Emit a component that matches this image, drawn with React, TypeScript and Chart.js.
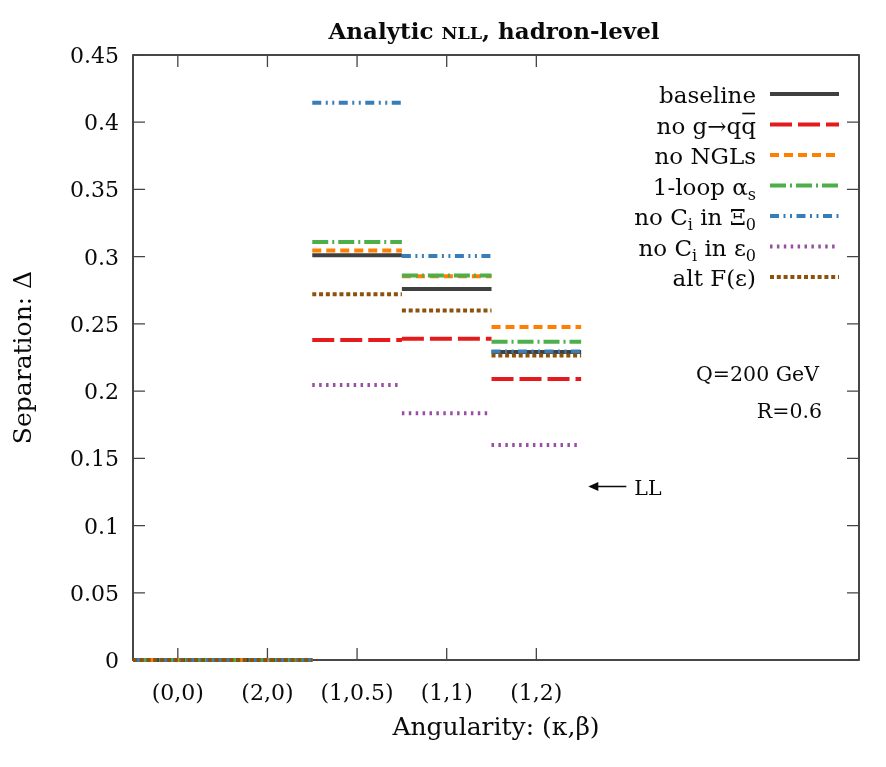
import React, { useEffect, useRef } from "react";
import { Chart, registerables } from "chart.js";

Chart.register(...registerables);

// Angularity choices (κ,β) along the x axis, one per unit step
const categories = ["(0,0)", "(2,0)", "(1,0.5)", "(1,1)", "(1,2)"];
const yTicks = [0, 0.05, 0.1, 0.15, 0.2, 0.25, 0.3, 0.35, 0.4, 0.45];

// Separation Δ for each variation
const baseline = [0, 0, 0.301, 0.276, 0.229];
const noGtoQQ = [0, 0, 0.238, 0.239, 0.209];
const noNGLs = [0, 0, 0.3045, 0.2855, 0.2477];
const oneLoopAlphaS = [0, 0, 0.311, 0.286, 0.2368];
const noCiInXi0 = [0, 0, 0.4145, 0.3005, 0.2295];
const noCiInEps0 = [0, 0, 0.2046, 0.1836, 0.16];
const altFeps = [0, 0, 0.272, 0.26, 0.2264];

// Leading-log reference value for (1,2)
const llValue = 0.129;

type Run = { t: string; sub?: boolean; over?: boolean };

const seriesLabels: Run[][] = [
  [{ t: "baseline" }],
  [{ t: "no g" }, { t: "→" }, { t: "q" }, { t: "q", over: true }],
  [{ t: "no NGLs" }],
  [{ t: "1-loop α" }, { t: "s", sub: true }],
  [{ t: "no C" }, { t: "i", sub: true }, { t: " in Ξ" }, { t: "0", sub: true }],
  [{ t: "no C" }, { t: "i", sub: true }, { t: " in ε" }, { t: "0", sub: true }],
  [{ t: "alt F(ε)" }],
];
const seriesValues = [baseline, noGtoQQ, noNGLs, oneLoopAlphaS, noCiInXi0, noCiInEps0, altFeps];
const seriesColors = ["#404040", "#e41a1c", "#ff7f00", "#4daf4a", "#377eb8", "#984ea3", "#8c510a"];
const seriesDashes: number[][] = [
  [],
  [22, 6],
  [9, 5],
  [16, 4, 2, 4],
  [9, 4.5, 2, 4.5, 2, 4.5],
  [2.5, 4.4],
  [4, 2.8],
];

const FONT = '"DejaVu Serif", serif';
const INK = "#0a0a0a";

// Each category is a flat segment one unit wide, centred on its tick
function segments(values: number[]) {
  const pts: { x: number; y: number | null }[] = [];
  values.forEach((v, i) => {
    const c = i + 1;
    pts.push({ x: c - 0.5, y: v });
    pts.push({ x: c + 0.5, y: v });
    pts.push({ x: c + 0.5, y: null });
  });
  return pts;
}

function runsWidth(ctx: CanvasRenderingContext2D, runs: Run[], size: number) {
  let w = 0;
  for (const r of runs) {
    ctx.font = `${r.sub ? Math.round(size * 0.68) : size}px ${FONT}`;
    w += ctx.measureText(r.t).width;
  }
  return w;
}

function drawRuns(ctx: CanvasRenderingContext2D, runs: Run[], xRight: number, yBase: number, size: number) {
  let x = xRight - runsWidth(ctx, runs, size);
  ctx.textAlign = "left";
  ctx.textBaseline = "alphabetic";
  for (const r of runs) {
    ctx.font = `${r.sub ? Math.round(size * 0.68) : size}px ${FONT}`;
    const w = ctx.measureText(r.t).width;
    ctx.fillText(r.t, x, yBase + (r.sub ? 5 : 0));
    if (r.over) {
      ctx.save();
      ctx.lineWidth = 1.6;
      ctx.strokeStyle = INK;
      ctx.beginPath();
      ctx.moveTo(x + 1, yBase - 20);
      ctx.lineTo(x + w - 1, yBase - 20);
      ctx.stroke();
      ctx.restore();
    }
    x += w;
  }
}

const framePlugin = {
  id: "frame",
  beforeDatasetsDraw(chart: any) {
    const { ctx, chartArea: a, scales } = chart;
    const xs = scales.x;
    const ys = scales.y;
    ctx.save();
    // axis box
    ctx.strokeStyle = "#1a1a1a";
    ctx.lineWidth = 1.6;
    ctx.strokeRect(a.left, a.top, a.right - a.left, a.bottom - a.top);

    // inward ticks
    ctx.strokeStyle = "#444";
    ctx.lineWidth = 1.3;
    ctx.beginPath();
    yTicks.forEach((v) => {
      const y = ys.getPixelForValue(v);
      ctx.moveTo(a.left, y);
      ctx.lineTo(a.left + 12, y);
      ctx.moveTo(a.right, y);
      ctx.lineTo(a.right - 12, y);
    });
    categories.forEach((_, i) => {
      const x = xs.getPixelForValue(i + 1);
      ctx.moveTo(x, a.bottom);
      ctx.lineTo(x, a.bottom - 12);
      ctx.moveTo(x, a.top);
      ctx.lineTo(x, a.top + 12);
    });
    ctx.stroke();

    // tick labels
    ctx.fillStyle = INK;
    ctx.font = `22px ${FONT}`;
    ctx.textAlign = "right";
    ctx.textBaseline = "alphabetic";
    yTicks.forEach((v) => {
      const y = ys.getPixelForValue(v);
      ctx.fillText(String(v), a.left - 14, y + 8);
    });
    ctx.textAlign = "center";
    categories.forEach((c, i) => {
      const x = xs.getPixelForValue(i + 1);
      ctx.fillText(c, x, a.bottom + 40);
    });

    // axis titles
    ctx.font = `25px ${FONT}`;
    ctx.fillText("Angularity: (κ,β)", (a.left + a.right) / 2, a.bottom + 75);
    ctx.save();
    ctx.translate(31, (a.top + a.bottom) / 2);
    ctx.rotate(-Math.PI / 2);
    ctx.fillText("Separation: Δ", 0, 0);
    ctx.restore();

    // title with small-caps NLL
    const parts = [
      { t: "Analytic ", s: 23 },
      { t: "NLL", s: 17.5 },
      { t: ", hadron-level", s: 23 },
    ];
    let total = 0;
    parts.forEach((p) => {
      ctx.font = `bold ${p.s}px ${FONT}`;
      total += ctx.measureText(p.t).width;
    });
    let tx = (a.left + a.right) / 2 - 2 - total / 2;
    ctx.textAlign = "left";
    parts.forEach((p) => {
      ctx.font = `bold ${p.s}px ${FONT}`;
      ctx.fillText(p.t, tx, 39);
      tx += ctx.measureText(p.t).width;
    });
    ctx.restore();
  },
  afterDatasetsDraw(chart: any) {
    const { ctx, scales } = chart;
    const xs = scales.x;
    const ys = scales.y;
    ctx.save();
    // legend
    const rowY = [94, 124.5, 155, 185.5, 216, 246.5, 277];
    chart.data.datasets.forEach((ds: any, i: number) => {
      const y = rowY[i];
      ctx.fillStyle = INK;
      drawRuns(ctx, seriesLabels[i], 756, y + 9, 23);
      ctx.save();
      ctx.strokeStyle = ds.borderColor;
      ctx.lineWidth = ds.borderWidth;
      ctx.setLineDash(ds.borderDash || []);
      ctx.lineCap = "butt";
      ctx.beginPath();
      ctx.moveTo(770, y);
      ctx.lineTo(839, y);
      ctx.stroke();
      ctx.restore();
    });

    // run parameters
    ctx.fillStyle = INK;
    ctx.font = `20.5px ${FONT}`;
    ctx.textAlign = "right";
    ctx.textBaseline = "alphabetic";
    ctx.fillText("Q=200 GeV", 819, 381);
    ctx.fillText("R=0.6", 822, 418);

    // LL marker arrow
    const ay = ys.getPixelForValue(llValue);
    const tip = xs.getPixelForValue(5.58);
    const tail = tip + 38;
    ctx.strokeStyle = INK;
    ctx.lineWidth = 1.6;
    ctx.beginPath();
    ctx.moveTo(tail, ay);
    ctx.lineTo(tip + 3, ay);
    ctx.stroke();
    ctx.beginPath();
    ctx.moveTo(tip, ay);
    ctx.lineTo(tip + 10, ay - 4.5);
    ctx.lineTo(tip + 10, ay + 4.5);
    ctx.closePath();
    ctx.fill();
    ctx.font = `20.5px ${FONT}`;
    ctx.textAlign = "left";
    ctx.fillText("LL", tail + 8, ay + 8);
    ctx.restore();
  },
};

export default function App() {
  const ref = useRef<HTMLCanvasElement>(null);
  useEffect(() => {
    if (!ref.current) return;
    const chart = new Chart(ref.current, {
      type: "line",
      data: {
        datasets: seriesValues.map((vals, i) => ({
          label: seriesLabels[i].map((r) => r.t).join(""),
          data: segments(vals),
          borderColor: seriesColors[i],
          borderDash: seriesDashes[i],
          borderWidth: 4,
          borderCapStyle: "butt",
          pointRadius: 0,
          fill: false,
          spanGaps: false,
          clip: false,
          order: seriesValues.length - i,
        })),
      },
      options: {
        responsive: false,
        animation: false,
        events: [],
        layout: { padding: { left: 133, top: 55, right: 27, bottom: 107 } },
        scales: {
          x: { type: "linear", min: 0.5, max: 8.6, display: false },
          y: { type: "linear", min: 0, max: 0.45, display: false },
        },
        plugins: {
          legend: { display: false },
          tooltip: { enabled: false },
          title: { display: false },
        },
      },
      plugins: [framePlugin],
    } as any);
    return () => chart.destroy();
  }, []);
  return (
    <div style={{ position: "absolute", left: 0, top: 0, width: 886, height: 767, background: "#fff" }}>
      <canvas ref={ref} width={886} height={767} style={{ display: "block" }} />
    </div>
  );
}
